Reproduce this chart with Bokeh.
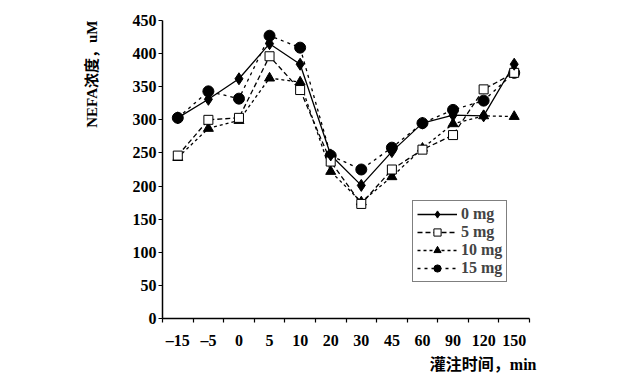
import math
from bokeh.plotting import figure
from bokeh.models import FixedTicker, Legend, LegendItem, Title
from bokeh.embed import file_html
from bokeh.resources import INLINE

categories = ["–15", "–5", "0", "5", "10", "20", "30", "45", "60", "90", "120", "150"]
nefa_0mg = [303, 331, 362, 415, 384, 247, 201, 252, 295, 307, 306, 384]
nefa_5mg = [246, 300, 303, 396, 345, 237, 173, 225, 255, 277, 346, 371]
nefa_10mg = [243, 287, 299, 363, 357, 222, 176, 214, 257, 294, 306, 305]
nefa_15mg = [303, 343, 332, 427, 409, 246, 225, 258, 295, 315, 329, 371]
y_ticks = [0, 50, 100, 150, 200, 250, 300, 350, 400, 450]
series_labels = ["0 mg", "5 mg", "10 mg", "15 mg"]
x_title = "灌注时间，min"
y_title = "NEFA浓度，uM"

FONT = "Liberation Serif, Noto Sans CJK SC"

xs = [i + 0.5 for i in range(len(categories))]

W, H = 620, 382
FRAME_W = 367
FRAME_H = 298
p = figure(width=W, height=H, x_range=(0, len(categories)), y_range=(0, 450),
           output_backend="svg", toolbar_location=None,
           min_border_left=162, min_border_right=W - 162 - FRAME_W,
           min_border_top=20, min_border_bottom=H - 20 - FRAME_H)
p.outline_line_color = None
p.xgrid.visible = False
p.ygrid.visible = False
p.background_fill_color = "white"
p.border_fill_color = "white"

# axes
xa = p.xaxis[0]
xa.ticker = FixedTicker(ticks=xs, minor_ticks=list(range(len(categories) + 1)))
xa.major_label_overrides = {x: c for x, c in zip(xs, categories)}
xa.major_tick_in = 0
xa.major_tick_out = 0
xa.minor_tick_in = 0
xa.minor_tick_out = 4
xa.minor_tick_line_color = "black"
xa.major_label_standoff = 9

ya = p.yaxis[0]
ya.ticker = FixedTicker(ticks=y_ticks, minor_ticks=[])
ya.major_tick_in = 0
ya.major_tick_out = 4
ya.major_label_standoff = 2
ya.axis_label = y_title
ya.axis_label_orientation = math.pi / 2
ya.axis_label_align = "end"
ya.axis_label_standoff = 38
ya.axis_label_text_font_size = "15px"

for ax in (xa, ya):
    ax.axis_line_color = "black"
    ax.axis_line_width = 1.5
    ax.major_tick_line_color = "black"
    ax.major_tick_line_width = 1.2
    ax.minor_tick_line_width = 1.2
    ax.major_label_text_font = FONT
    ax.major_label_text_font_style = "bold"
    ax.major_label_text_font_size = "16px"
    ax.major_label_text_color = "black"
    ax.axis_label_text_font = FONT
    ax.axis_label_text_font_style = "bold"
    ax.axis_label_text_color = "black"

xt = Title(text=x_title, align="right", offset=-7, standoff=4,
           text_font=FONT, text_font_style="bold", text_font_size="16px",
           text_color="black")
p.add_layout(xt, "below")

styles = [
    dict(data=nefa_0mg, dash="solid", marker="diamond", size=12, fill="black"),
    dict(data=nefa_5mg, dash="5 3", marker="square", size=9, fill="white"),
    dict(data=nefa_10mg, dash="3 3", marker="triangle", size=10, fill="black"),
    dict(data=nefa_15mg, dash="3 4", marker="circle", size=11, fill="black"),
]

lines = []
for s in styles:
    lines.append(p.line(xs, s["data"], line_color="black", line_width=1.3, line_dash=s["dash"]))
marks = []
for s in reversed(styles):
    marks.insert(0, p.scatter(xs, s["data"], marker=s["marker"], size=s["size"],
                              fill_color=s["fill"], line_color="black", line_width=1))

items = [LegendItem(label=lab, renderers=[l, m]) for lab, l, m in zip(series_labels, lines, marks)]
legend = Legend(items=items, location=(250, 36), glyph_width=40, glyph_height=18,
                label_height=18, spacing=0, padding=4, margin=0, label_standoff=4,
                border_line_color="black", border_line_width=1.5,
                label_text_font=FONT, label_text_font_style="bold",
                label_text_font_size="16px", background_fill_alpha=1)
p.add_layout(legend, "center")

open("out.html", "w").write(file_html(p, INLINE))
